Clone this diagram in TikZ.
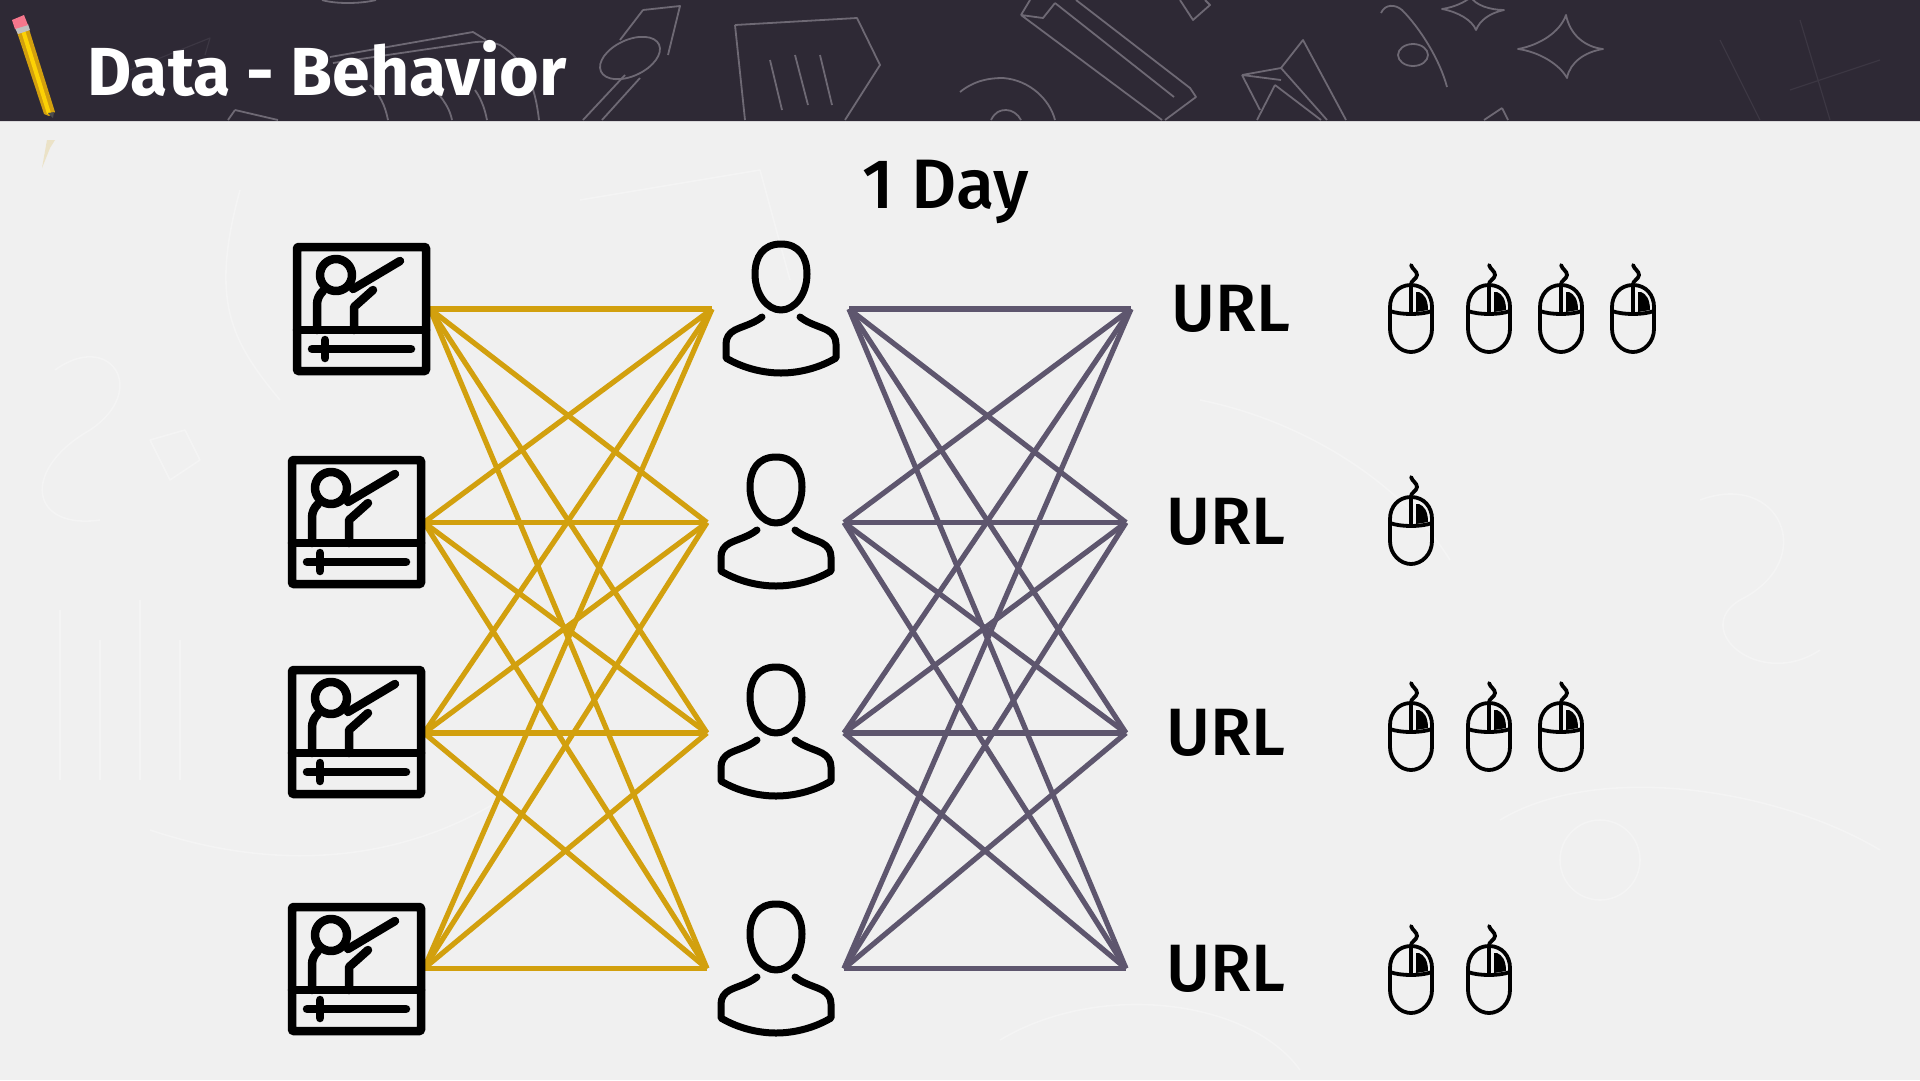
\documentclass[tikz,border=0pt]{standalone}
\usepackage{fontspec}
\setmainfont{Fira Sans}
\newfontfamily\urlfont{Fira Sans Medium}[BoldFont={Fira Sans}]
\definecolor{bandc}{HTML}{2E2935}
\definecolor{paperc}{HTML}{F0F0F0}
\definecolor{goldc}{HTML}{D2A00E}
\definecolor{purplec}{HTML}{5E566E}
\definecolor{doodc}{HTML}{6E6974}
\definecolor{dood2}{HTML}{3C3743}
\definecolor{faintc}{HTML}{F4F4F4}
\tikzset{
  goldline/.style={draw=goldc,line width=5.2pt},
  purpleline/.style={draw=purplec,line width=5.2pt},
  doodle/.style={draw=doodc,line width=1.8pt,line join=round},
  doodlefaint/.style={draw=dood2,line width=1.2pt,line join=round},
  paperdoodle/.style={draw=faintc,line width=1.6pt,line join=round},
  iconline/.style={draw=black,line width=8.5pt,line cap=round,line join=round},
  personline/.style={draw=black,line width=7pt,line cap=round,line join=round},
  mouseline/.style={draw=black,line width=3.8pt,line cap=round,line join=round},
  urllabel/.style={font=\urlfont\fontsize{67}{67}\selectfont,text=black,inner sep=0pt},
  videoicon/.pic={
    \draw[iconline,rounded corners=1pt] (4,4) rectangle (133,128);
    \draw[iconline] (4,87) -- (133,87);
    \draw[iconline] (19,106) -- (118,106);
    \draw[iconline] (32,97) -- (32,115);
    \draw[iconline] (43,32) circle (16);
    \draw[iconline] (24,87) -- (24,62) .. controls (24,56) and (26,52) .. (30,48);
    \draw[iconline] (61,87) -- (61,64) -- (80,47);
    \draw[iconline] (60,46) -- (107,18);
  },
  personicon/.pic={
    \draw[personline] (0,-33) .. controls (18,-33) and (26,-20) .. (26,-3)
      .. controls (26,17) and (14,33) .. (0,33)
      .. controls (-14,33) and (-26,17) .. (-26,-3)
      .. controls (-26,-20) and (-18,-33) .. (0,-33) -- cycle;
    \draw[personline] (-19,40) .. controls (-28,47) and (-38,49) .. (-46,53)
      .. controls (-52,56) and (-55,61) .. (-55,67) -- (-55,81)
      .. controls (-40,90) and (-20,96) .. (0,96)
      .. controls (20,96) and (40,90) .. (55,81) -- (55,67)
      .. controls (55,61) and (52,56) .. (46,53)
      .. controls (38,49) and (28,47) .. (19,40);
  },
  mouseicon/.pic={
    \draw[mouseline] (0,0) .. controls (-13,0) and (-21,10) .. (-21,22) -- (-21,44)
      .. controls (-21,57) and (-11,67) .. (0,67)
      .. controls (11,67) and (21,57) .. (21,44) -- (21,22)
      .. controls (21,10) and (13,0) .. (0,0) -- cycle;
    \draw[mouseline] (-21,26) .. controls (-10,30) and (10,30) .. (21,26);
    \draw[mouseline] (0,0) -- (0,29);
    \fill[black] (5,7) -- (8,7) .. controls (13,9) and (17,14) .. (17,25) -- (5,27) -- cycle;
    \draw[mouseline] (0,0) .. controls (-1,-4) and (6,-6) .. (6,-10) .. controls (6,-14) and (1,-16) .. (0,-20);
  }
}
\begin{document}
\begin{tikzpicture}[x=1pt,y=-1pt]
\useasboundingbox (0,0) rectangle (1920,1080);
\fill[paperc] (0,0) rectangle (1920,1080);
% faint doodles on the paper
\draw[paperdoodle] (55,370) .. controls (110,330) and (150,390) .. (90,430) .. controls (20,470) and (30,530) .. (100,520);
\draw[paperdoodle] (150,440) -- (185,430) -- (200,460) -- (170,480) -- cycle;
\draw[paperdoodle] (60,610) -- (60,780) (100,640) -- (100,780) (140,600) -- (140,780) (180,640) -- (180,780);
\draw[paperdoodle] (240,190) .. controls (210,300) and (230,340) .. (280,400);
\draw[paperdoodle] (580,200) -- (760,170) -- (790,280);
\draw[paperdoodle] (1200,400) .. controls (1300,420) and (1400,480) .. (1450,560);
\draw[paperdoodle] (1700,500) .. controls (1780,470) and (1820,560) .. (1740,600) .. controls (1690,630) and (1760,690) .. (1820,650);
\draw[paperdoodle] (1500,820) .. controls (1600,760) and (1780,790) .. (1880,850);
\draw[paperdoodle] (1600,860) circle (40);
\draw[paperdoodle] (150,830) .. controls (300,880) and (420,850) .. (500,800);
\draw[paperdoodle] (1000,1040) .. controls (1100,980) and (1250,1000) .. (1300,1070);
% header band
\fill[bandc] (0,0) rectangle (1920,120.5);
\begin{scope}
\clip (0,0) rectangle (1920,120.5);
\draw[doodle] (1566,15) .. controls (1570,35) and (1585,47) .. (1603,49) .. controls (1585,52) and (1570,62) .. (1567,78)
  .. controls (1560,65) and (1540,52) .. (1518,49) .. controls (1540,45) and (1560,32) .. (1566,15) -- cycle;
\draw[doodle] (1471,-3) .. controls (1475,5) and (1490,10) .. (1504,10) .. controls (1490,13) and (1480,20) .. (1476,30)
  .. controls (1472,20) and (1458,12) .. (1442,9) .. controls (1455,7) and (1465,2) .. (1471,-3) -- cycle;
\draw[doodle] (1381,13) .. controls (1385,4) and (1395,4) .. (1402,10) .. controls (1420,28) and (1440,60) .. (1447,87);
\draw[doodle] (1413,55) ellipse (15 and 11);
\draw[doodle] (1021,15) -- (1162,120) (1055,3) -- (1174,97) (1076,0) -- (1190,88) -- (1196,97) -- (1165,120) (1021,15) -- (1043,18) -- (1055,3) (1021,15) -- (1030,0);
\draw[doodle] (960,92) .. controls (975,80) and (990,78) .. (1003,78) .. controls (1030,80) and (1050,100) .. (1055,120);
\draw[doodle] (991,120) .. controls (995,112) and (1000,110) .. (1006,110) .. controls (1012,110) and (1018,114) .. (1021,120);
\draw[doodle] (1242,75) -- (1281,68) -- (1303,40) -- (1346,120) (1242,75) -- (1260,110) (1281,68) -- (1327,120) (1275,85) -- (1257,120) (1275,85) -- (1321,120) (1242,75) -- (1281,80);
\draw[doodle] (1180,0) -- (1193,20) -- (1210,5) -- (1205,0);
\draw[doodle] (1502,108) -- (1484,120) (1502,108) -- (1508,120);
\draw[doodle] (330,57) -- (473,32) -- (486,40) (333,63) -- (469,43) .. controls (480,41) and (490,41) .. (500,45) .. controls (525,60) and (535,85) .. (539,120);
\draw[doodle] (370,85) .. controls (380,95) and (385,105) .. (388,120) (430,85) .. controls (445,100) and (450,110) .. (452,120) (475,90) .. controls (482,100) and (485,110) .. (487,120);
\draw[doodle] (322,0) .. controls (335,4) and (360,4) .. (376,0);
\draw[doodle] (235,110) -- (278,120) (235,110) -- (228,120);
\draw[doodlefaint] (130,70) -- (210,38) -- (205,55);
\draw[doodle] (643,10) -- (680,6) -- (668,55) (643,10) -- (620,40);
\draw[doodle,rotate around={25:(630,58)}] (630,58) ellipse (32 and 18);
\draw[doodle] (625,75) -- (583,120) (640,78) -- (602,120);
\draw[doodle] (735,25) -- (857,18) -- (880,65) -- (845,120) (735,25) -- (745,120) (770,60) -- (782,110) (795,55) -- (808,105) (820,55) -- (832,105);
\draw[doodlefaint] (1720,40) -- (1760,120) (1800,20) -- (1830,120) (1790,90) -- (1880,60);
\end{scope}
\fill[bandc!12!paperc] (0,120.5) rectangle (1920,122);
% pencil
\fill[goldc] (17,32) -- (29,29) -- (55,112) -- (49,116) -- (44,114) -- cycle;
\fill[yellow!70!orange] (21,31) -- (25,30) -- (51,113) -- (47,114) -- cycle;
\fill[black!25] (15,28) -- (28,24) -- (30,30) -- (18,34) -- cycle;
\fill[magenta!45!red!55] (12,20) -- (24,15) -- (28,25) -- (15,29) -- cycle;
\fill[black!70] (48,113) -- (54,112) -- (53,118) -- cycle;
\fill[goldc!18!paperc] (42,168) -- (50,148) -- (55,140) -- (47,140) -- cycle;
% title
\node[inner sep=0pt,anchor=base west,text=white,font=\bfseries\fontsize{68}{68}\selectfont] (title) at (87,95) {Data - Behavior};
\node[inner sep=0pt,font=\urlfont\fontsize{70}{70}\selectfont,text=black,anchor=base] (day) at (946,208) {1 Day};
% connector ends
\coordinate (gl1) at (430,309); \coordinate (gl2) at (424,522.5); \coordinate (gl3) at (424,733); \coordinate (gl4) at (424,968.5);
\coordinate (gr1) at (712,309); \coordinate (gr2) at (707,522.5); \coordinate (gr3) at (707,733); \coordinate (gr4) at (707,968.5);
\coordinate (pl1) at (849,309); \coordinate (pl2) at (844,522.5); \coordinate (pl3) at (844,733); \coordinate (pl4) at (844,968.5);
\coordinate (pr1) at (1131,309); \coordinate (pr2) at (1126,522.5); \coordinate (pr3) at (1126,733); \coordinate (pr4) at (1126,968.5);
\foreach \i in {1,2,3,4} \foreach \j in {1,2,3,4} {
  \draw[goldline] (gl\i) -- (gr\j);
  \draw[purpleline] (pl\i) -- (pr\j);
}
% videos
\pic (v1) at (293,243) {videoicon};
\pic (v2) at (288,456) {videoicon};
\pic (v3) at (288,666) {videoicon};
\pic (v4) at (288,903) {videoicon};
% people
\pic (p1) at (781,277) {personicon};
\pic (p2) at (776,490) {personicon};
\pic (p3) at (776,700) {personicon};
\pic (p4) at (776,937) {personicon};
% URLs
\node[urllabel,anchor=base] (u1) at (1231,331) {URL};
\node[urllabel,anchor=base] (u2) at (1226,544) {URL};
\node[urllabel,anchor=base] (u3) at (1226,755) {URL};
\node[urllabel,anchor=base] (u4) at (1226,991) {URL};
% mice
\foreach \x/\n in {1411/a,1489/b,1561/c,1633/d} \pic (m1\n) at (\x,285) {mouseicon};
\pic (m2a) at (1411,497) {mouseicon};
\foreach \x/\n in {1411/a,1489/b,1561/c} \pic (m3\n) at (\x,703) {mouseicon};
\foreach \x/\n in {1411/a,1489/b} \pic (m4\n) at (\x,946) {mouseicon};
\end{tikzpicture}
\end{document}
